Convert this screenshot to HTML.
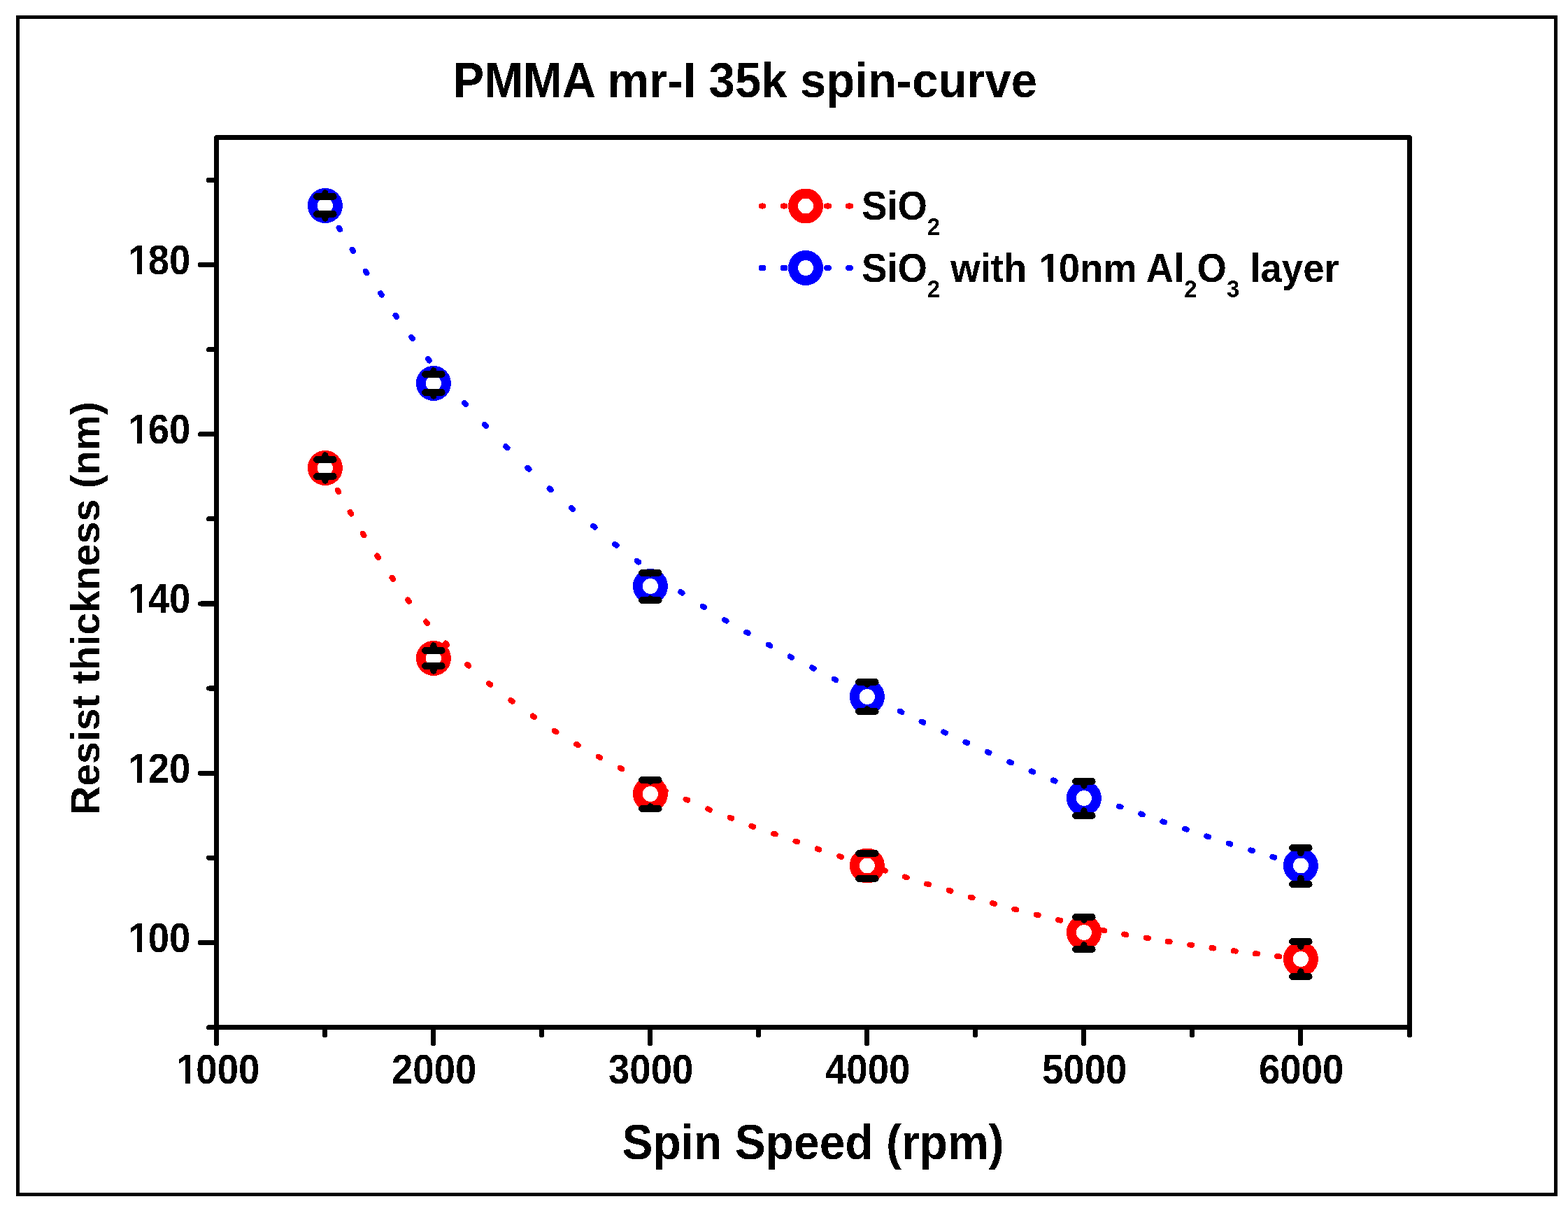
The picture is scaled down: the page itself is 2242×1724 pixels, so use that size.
<!DOCTYPE html>
<html><head><meta charset="utf-8"><title>PMMA mr-I 35k spin-curve</title>
<style>html,body{margin:0;padding:0;background:#fff;}svg{display:block;}</style></head>
<body>
<svg width="2242" height="1724" viewBox="0 0 2242 1724">
<defs><filter id="bin" x="0" y="0" width="2242" height="1724" filterUnits="userSpaceOnUse" color-interpolation-filters="sRGB"><feComponentTransfer><feFuncR type="discrete" tableValues="0 1"/><feFuncG type="discrete" tableValues="0 1"/><feFuncB type="discrete" tableValues="0 1"/></feComponentTransfer></filter></defs><g filter="url(#bin)">
<rect x="0" y="0" width="2242" height="1724" fill="#fff"/>
<rect x="25.5" y="24.5" width="2199" height="1683" fill="none" stroke="#000" stroke-width="5"/>
<path d="M484.6 325.6L486.2 328.2M503.5 356.6L505.1 359.2M522.8 387.7L524.4 390.3M544.2 419.2L545.8 421.6M565.5 450.7L567.3 453.1M588.1 481.7L589.9 484.1M612.0 513.1L613.8 515.5M663.9 575.8L665.9 578.0M692.8 606.8L694.8 609.0M723.3 638.1L725.5 640.3M754.3 668.8L756.5 670.8M785.6 698.2L787.8 700.2M816.8 726.1L819.0 728.1M848.2 751.8L850.6 753.8M879.2 778.0L881.6 779.8M910.7 801.7L913.1 803.5M973.2 846.1L975.6 847.9M1004.7 866.6L1007.3 868.2M1035.9 886.1L1038.5 887.7M1067.1 903.7L1069.7 905.1M1098.8 921.6L1101.4 923.0M1129.7 938.5L1132.3 939.9M1161.1 954.3L1163.7 955.7M1192.7 970.6L1195.3 972.0M1286.8 1016.6L1289.4 1018.0M1317.6 1031.6L1320.4 1032.8M1349.2 1046.4L1352.0 1047.6M1380.5 1060.8L1383.3 1062.0M1411.7 1074.8L1414.5 1076.0M1443.3 1089.2L1446.1 1090.4M1474.6 1102.3L1477.4 1103.5M1505.8 1115.3L1508.6 1116.5M1599.8 1152.5L1602.6 1153.5M1631.1 1163.4L1633.9 1164.4M1662.3 1174.4L1665.1 1175.4M1694.1 1184.7L1696.9 1185.7M1725.1 1195.3L1727.9 1196.3M1756.6 1205.6L1759.4 1206.6M1788.2 1215.4L1791.0 1216.2M1819.5 1224.9L1822.3 1225.7" stroke="#00f" stroke-width="8" stroke-linecap="round" fill="none"/>
<path d="M482.9 700.6L484.3 703.2M500.6 732.0L502.2 734.6M518.8 762.7L520.4 765.3M539.2 794.5L540.8 796.9M560.5 825.7L562.3 828.1M583.1 857.4L584.9 859.8M609.0 888.6L611.0 890.8M637.2 919.5L639.2 921.7M668.0 949.8L670.2 951.8M698.8 977.0L701.2 978.8M730.4 1001.0L732.8 1002.8M761.7 1023.5L764.1 1025.3M792.8 1044.7L795.4 1046.3M824.1 1063.7L826.7 1065.3M855.7 1081.6L858.3 1083.0M886.8 1097.7L889.4 1099.1M949.1 1129.4L951.9 1130.6M980.5 1142.6L983.3 1143.8M1012.1 1156.4L1014.9 1157.6M1043.6 1168.8L1046.4 1169.8M1074.5 1180.9L1077.3 1181.9M1106.1 1191.5L1108.9 1192.5M1137.4 1202.5L1140.2 1203.5M1168.6 1213.4L1171.4 1214.4M1200.2 1223.9L1203.0 1224.9M1263.1 1243.8L1265.9 1244.8M1293.9 1253.4L1296.7 1254.4M1325.1 1263.5L1327.9 1264.3M1356.7 1272.9L1359.5 1273.7M1387.7 1282.5L1390.5 1283.3M1419.1 1291.0L1421.9 1291.8M1450.3 1299.5L1453.3 1300.3M1481.6 1307.5L1484.6 1308.3M1513.1 1315.1L1516.1 1315.7M1576.5 1329.7L1579.5 1330.3M1607.2 1335.5L1610.2 1336.1M1638.8 1340.7L1641.8 1341.1M1669.7 1345.8L1672.7 1346.2M1701.3 1350.6L1704.3 1351.0M1732.5 1355.1L1735.5 1355.5M1763.8 1359.2L1766.8 1359.6M1794.9 1363.1L1797.9 1363.5M1826.2 1366.8L1829.2 1367.2" stroke="#f00" stroke-width="8" stroke-linecap="round" fill="none"/>
<circle cx="464.9" cy="294.0" r="18" fill="#fff" stroke="#00f" stroke-width="14"/>
<path d="M464.9 276.0V281.0M464.9 312.0V306.0" stroke="#000" stroke-width="9.3" stroke-linecap="round" fill="none"/><path d="M453.2 281.0H476.6M453.2 306.0H476.6" stroke="#000" stroke-width="10" stroke-linecap="round" fill="none"/>
<circle cx="619.9" cy="548.0" r="18" fill="#fff" stroke="#00f" stroke-width="14"/>
<path d="M619.9 530.0V535.0M619.9 566.0V561.0" stroke="#000" stroke-width="9.3" stroke-linecap="round" fill="none"/><path d="M608.2 535.0H631.6M608.2 561.0H631.6" stroke="#000" stroke-width="10" stroke-linecap="round" fill="none"/>
<circle cx="929.9" cy="838.0" r="18" fill="#fff" stroke="#00f" stroke-width="14"/>
<path d="M929.9 820.0V819.0M929.9 856.0V858.0" stroke="#000" stroke-width="9.3" stroke-linecap="round" fill="none"/><path d="M918.2 819.0H941.6M918.2 858.0H941.6" stroke="#000" stroke-width="10" stroke-linecap="round" fill="none"/>
<circle cx="1239.9" cy="996.0" r="18" fill="#fff" stroke="#00f" stroke-width="14"/>
<path d="M1239.9 978.0V975.0M1239.9 1014.0V1017.0" stroke="#000" stroke-width="9.3" stroke-linecap="round" fill="none"/><path d="M1228.2 975.0H1251.6M1228.2 1017.0H1251.6" stroke="#000" stroke-width="10" stroke-linecap="round" fill="none"/>
<circle cx="1549.9" cy="1141.0" r="18" fill="#fff" stroke="#00f" stroke-width="14"/>
<path d="M1549.9 1123.0V1117.0M1549.9 1159.0V1166.0" stroke="#000" stroke-width="9.3" stroke-linecap="round" fill="none"/><path d="M1538.2 1117.0H1561.6M1538.2 1166.0H1561.6" stroke="#000" stroke-width="10" stroke-linecap="round" fill="none"/>
<circle cx="1859.9" cy="1237.4" r="18" fill="#fff" stroke="#00f" stroke-width="14"/>
<path d="M1859.9 1219.4V1212.0M1859.9 1255.4V1264.0" stroke="#000" stroke-width="9.3" stroke-linecap="round" fill="none"/><path d="M1848.2 1212.0H1871.6M1848.2 1264.0H1871.6" stroke="#000" stroke-width="10" stroke-linecap="round" fill="none"/>
<circle cx="464.9" cy="669.0" r="18" fill="#fff" stroke="#f00" stroke-width="14"/>
<path d="M464.9 651.0V657.0M464.9 687.0V681.0" stroke="#000" stroke-width="9.3" stroke-linecap="round" fill="none"/><path d="M453.2 657.0H476.6M453.2 681.0H476.6" stroke="#000" stroke-width="10" stroke-linecap="round" fill="none"/>
<circle cx="619.9" cy="941.0" r="18" fill="#fff" stroke="#f00" stroke-width="14"/>
<path d="M619.9 923.0V930.0M619.9 959.0V952.0" stroke="#000" stroke-width="9.3" stroke-linecap="round" fill="none"/><path d="M608.2 930.0H631.6M608.2 952.0H631.6" stroke="#000" stroke-width="10" stroke-linecap="round" fill="none"/>
<circle cx="929.9" cy="1135.0" r="18" fill="#fff" stroke="#f00" stroke-width="14"/>
<path d="M929.9 1117.0V1115.0M929.9 1153.0V1156.0" stroke="#000" stroke-width="9.3" stroke-linecap="round" fill="none"/><path d="M918.2 1115.0H941.6M918.2 1156.0H941.6" stroke="#000" stroke-width="10" stroke-linecap="round" fill="none"/>
<circle cx="1239.9" cy="1237.5" r="18" fill="#fff" stroke="#f00" stroke-width="14"/>
<path d="M1239.9 1219.5V1220.0M1239.9 1255.5V1256.0" stroke="#000" stroke-width="9.3" stroke-linecap="round" fill="none"/><path d="M1228.2 1220.0H1251.6M1228.2 1256.0H1251.6" stroke="#000" stroke-width="10" stroke-linecap="round" fill="none"/>
<circle cx="1549.9" cy="1333.0" r="18" fill="#fff" stroke="#f00" stroke-width="14"/>
<path d="M1549.9 1315.0V1311.0M1549.9 1351.0V1357.0" stroke="#000" stroke-width="9.3" stroke-linecap="round" fill="none"/><path d="M1538.2 1311.0H1561.6M1538.2 1357.0H1561.6" stroke="#000" stroke-width="10" stroke-linecap="round" fill="none"/>
<circle cx="1859.9" cy="1371.0" r="18" fill="#fff" stroke="#f00" stroke-width="14"/>
<path d="M1859.9 1353.0V1346.0M1859.9 1389.0V1396.0" stroke="#000" stroke-width="9.3" stroke-linecap="round" fill="none"/><path d="M1848.2 1346.0H1871.6M1848.2 1396.0H1871.6" stroke="#000" stroke-width="10" stroke-linecap="round" fill="none"/>
<path d="M309.5 196.5H2015.5V1468.5H309.5Z" fill="none" stroke="#000" stroke-width="7" stroke-linejoin="round"/>
<path d="M309.5 1468.5H298.5M309.5 1347.4H286.3M309.5 1226.3H298.5M309.5 1105.2H286.3M309.5 984.1H298.5M309.5 862.9H286.3M309.5 741.8H298.5M309.5 620.7H286.3M309.5 499.6H298.5M309.5 378.5H286.3M309.5 257.4H298.5M309.5 1468.5V1491.6M464.5 1468.5V1479.7M619.5 1468.5V1491.6M774.5 1468.5V1479.7M929.5 1468.5V1491.6M1084.5 1468.5V1479.7M1239.5 1468.5V1491.6M1394.5 1468.5V1479.7M1549.5 1468.5V1491.6M1704.5 1468.5V1479.7M1859.5 1468.5V1491.6M2015.5 1468.5V1479.7" stroke="#000" stroke-width="7" stroke-linecap="round" fill="none"/>
<g transform="translate(272.40,1360.89) scale(0.925,1)"><text x="-98.44" font-family="Liberation Sans, Arial, sans-serif" font-weight="bold" font-size="59" fill="#000"><tspan dx="1.95">1</tspan><tspan dx="-1.95">0</tspan>0</text><g fill="#fff"><rect x="-94.27" y="-6.62" width="11.68" height="7.62"/><rect x="-75.03" y="-6.62" width="11.21" height="7.62"/></g></g>
<g transform="translate(272.40,1118.67) scale(0.925,1)"><text x="-98.44" font-family="Liberation Sans, Arial, sans-serif" font-weight="bold" font-size="59" fill="#000"><tspan dx="1.95">1</tspan><tspan dx="-1.95">2</tspan>0</text><g fill="#fff"><rect x="-94.27" y="-6.62" width="11.68" height="7.62"/><rect x="-75.03" y="-6.62" width="11.21" height="7.62"/></g></g>
<g transform="translate(272.40,876.45) scale(0.925,1)"><text x="-98.44" font-family="Liberation Sans, Arial, sans-serif" font-weight="bold" font-size="59" fill="#000"><tspan dx="1.95">1</tspan><tspan dx="-1.95">4</tspan>0</text><g fill="#fff"><rect x="-94.27" y="-6.62" width="11.68" height="7.62"/><rect x="-75.03" y="-6.62" width="11.21" height="7.62"/></g></g>
<g transform="translate(272.40,634.23) scale(0.925,1)"><text x="-98.44" font-family="Liberation Sans, Arial, sans-serif" font-weight="bold" font-size="59" fill="#000"><tspan dx="1.95">1</tspan><tspan dx="-1.95">6</tspan>0</text><g fill="#fff"><rect x="-94.27" y="-6.62" width="11.68" height="7.62"/><rect x="-75.03" y="-6.62" width="11.21" height="7.62"/></g></g>
<g transform="translate(272.40,392.01) scale(0.925,1)"><text x="-98.44" font-family="Liberation Sans, Arial, sans-serif" font-weight="bold" font-size="59" fill="#000"><tspan dx="1.95">1</tspan><tspan dx="-1.95">8</tspan>0</text><g fill="#fff"><rect x="-94.27" y="-6.62" width="11.68" height="7.62"/><rect x="-75.03" y="-6.62" width="11.21" height="7.62"/></g></g>
<g transform="translate(310.70,1549.20) scale(0.925,1)"><text x="-65.63" font-family="Liberation Sans, Arial, sans-serif" font-weight="bold" font-size="59" fill="#000"><tspan dx="2.05">1</tspan><tspan dx="-2.05">0</tspan>00</text><g fill="#fff"><rect x="-61.36" y="-6.62" width="11.95" height="7.62"/><rect x="-41.84" y="-6.62" width="10.93" height="7.62"/></g></g>
<g transform="translate(620.70,1549.20) scale(0.925,1)"><text x="-65.63" font-family="Liberation Sans, Arial, sans-serif" font-weight="bold" font-size="59" fill="#000">2000</text></g>
<g transform="translate(930.70,1549.20) scale(0.925,1)"><text x="-65.63" font-family="Liberation Sans, Arial, sans-serif" font-weight="bold" font-size="59" fill="#000">3000</text></g>
<g transform="translate(1240.70,1549.20) scale(0.925,1)"><text x="-65.63" font-family="Liberation Sans, Arial, sans-serif" font-weight="bold" font-size="59" fill="#000">4000</text></g>
<g transform="translate(1550.70,1549.20) scale(0.925,1)"><text x="-65.63" font-family="Liberation Sans, Arial, sans-serif" font-weight="bold" font-size="59" fill="#000">5000</text></g>
<g transform="translate(1860.70,1549.20) scale(0.925,1)"><text x="-65.63" font-family="Liberation Sans, Arial, sans-serif" font-weight="bold" font-size="59" fill="#000">6000</text></g>
<g transform="translate(647.50,139.00) scale(0.9548,1)"><text x="0.00" font-family="Liberation Sans, Arial, sans-serif" font-weight="bold" font-size="70.2" fill="#000">PMMA mr-I 35k spin-curve</text></g>
<g transform="translate(1162.50,1657.00) scale(0.9494,1)"><text x="-287.67" font-family="Liberation Sans, Arial, sans-serif" font-weight="bold" font-size="69.5" fill="#000">Spin Speed (rpm)</text></g>
<g transform="translate(142.00,869.50) rotate(-90) scale(0.9944,1)"><text x="-297.17" font-family="Liberation Sans, Arial, sans-serif" font-weight="bold" font-size="57.5" fill="#000">Resist thickness (nm)</text></g>
<path d="M1088.5 294.5L1091.5 294.5M1119.5 294.5L1122.5 294.5M1150.5 294.5L1153.5 294.5M1182.0 294.5L1185.0 294.5M1213.0 294.5L1216.0 294.5" stroke="#f00" stroke-width="8" stroke-linecap="round" fill="none"/>
<circle cx="1152.0" cy="294.5" r="18" fill="#fff" stroke="#f00" stroke-width="14"/>
<g transform="translate(1232.00,313.80) scale(0.9395,1)"><text x="0.00" font-family="Liberation Sans, Arial, sans-serif" font-weight="bold" font-size="58" fill="#000">SiO<tspan font-size="35" dy="22">2</tspan></text></g>
<path d="M1088.5 383.0L1091.5 383.0M1119.5 383.0L1122.5 383.0M1150.5 383.0L1153.5 383.0M1182.0 383.0L1185.0 383.0M1213.0 383.0L1216.0 383.0" stroke="#00f" stroke-width="8" stroke-linecap="round" fill="none"/>
<circle cx="1152.0" cy="383.0" r="18" fill="#fff" stroke="#00f" stroke-width="14"/>
<g transform="translate(1232.00,403.00) scale(0.9395,1)"><text x="0.00" font-family="Liberation Sans, Arial, sans-serif" font-weight="bold" font-size="58" fill="#000">SiO<tspan font-size="35" dy="22">2</tspan><tspan dy="-22"> with </tspan><tspan dx="2.66">1</tspan><tspan dx="-2.66">0nm Al</tspan><tspan font-size="35" dy="22">2</tspan><tspan dy="-22">O</tspan><tspan font-size="35" dy="22">3</tspan><tspan dy="-22"> layer</tspan></text><g fill="#fff"><rect x="272.39" y="-6.52" width="11.80" height="7.52"/><rect x="291.64" y="-6.52" width="10.74" height="7.52"/></g></g>
</g>
</svg>
</body></html>
